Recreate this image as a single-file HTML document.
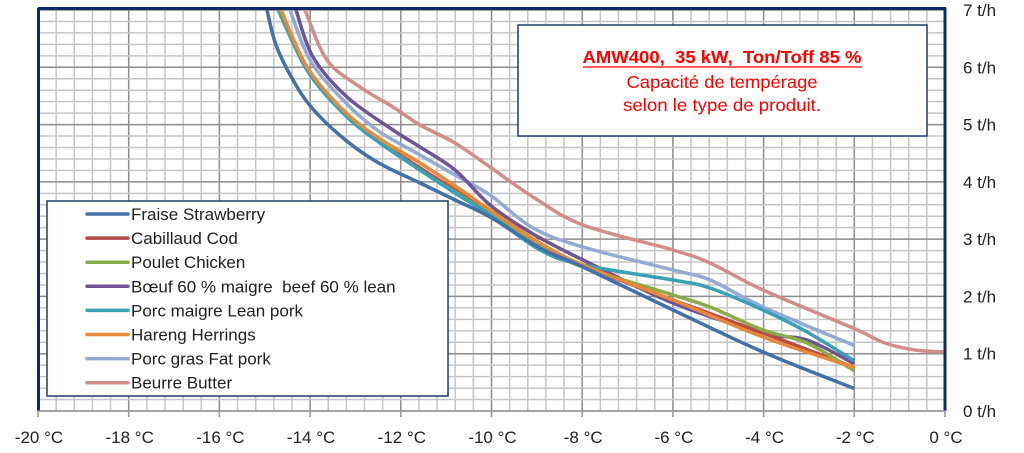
<!DOCTYPE html>
<html><head><meta charset="utf-8"><style>
html,body{margin:0;padding:0;background:#fff;}
svg{display:block;font-family:"Liberation Sans",sans-serif;}
text{white-space:pre;}
</style></head><body>
<svg id="s" width="1024" height="453" viewBox="0 0 1024 453">
<g id="grid"></g>
<g id="curves" fill="none" stroke-width="3.5" stroke-linecap="round" stroke-linejoin="round"></g>
<rect x="518" y="25" width="409" height="111" fill="#fff" stroke="#1f3a6e" stroke-width="1.5"/>
<text x="722" y="63" text-anchor="middle" fill="#ff0000" font-size="17.5" font-weight="bold" textLength="279" lengthAdjust="spacingAndGlyphs">AMW400,  35 kW,  Ton/Toff 85 %</text>
<line x1="583" y1="67" x2="862" y2="67" stroke="#ff0000" stroke-width="1.3"/>
<text x="722" y="88" text-anchor="middle" fill="#ff0000" font-size="17.5" textLength="191" lengthAdjust="spacingAndGlyphs">Capacité de tempérage</text>
<text x="722" y="111" text-anchor="middle" fill="#ff0000" font-size="17.5" textLength="198" lengthAdjust="spacingAndGlyphs">selon le type de produit.</text>
<rect x="47" y="201" width="401" height="195" fill="#fff" stroke="#1f3a6e" stroke-width="1.5"/>
<g font-size="17" fill="#222" id="leg"></g>
<g font-size="17" fill="#222" id="ax"></g>
<line x1="38" y1="8.5" x2="946" y2="8.5" stroke="#0c2a6b" stroke-width="3"/>
<line x1="38.5" y1="8" x2="38.5" y2="411" stroke="#0c2a6b" stroke-width="3"/>
<line x1="945" y1="8" x2="945" y2="411" stroke="#0c2a6b" stroke-width="3"/>
<line x1="37" y1="411" x2="946" y2="411" stroke="#999" stroke-width="1.5"/>
</svg>
<script>
var ns="http://www.w3.org/2000/svg";
function el(p,t,a,txt){var e=document.createElementNS(ns,t);for(var k in a)e.setAttribute(k,a[k]);if(txt!=null)e.textContent=txt;p.appendChild(e);return e;}
var g=document.getElementById('grid'),L=38,R=945,T=10,B=411;
for(var i=0;i<=50;i++){var x=L+(R-L)*i/50;var mj=i%5==0;el(g,'line',{x1:x,y1:T,x2:x,y2:B,stroke:mj?'#8c8c8c':'#c6c6c6','stroke-width':1.5});}
for(var j=0;j<=35;j++){var y=B-(B-T)*j/35;var mj=j%5==0;el(g,'line',{x1:L,y1:y,x2:R,y2:y,stroke:mj?'#8c8c8c':'#c6c6c6','stroke-width':1.5});}
function cr(p){var d='M'+p[0][0]+','+p[0][1];for(var i=0;i<p.length-1;i++){var p0=p[i-1]||p[i],p1=p[i],p2=p[i+1],p3=p[i+2]||p2;
d+=' C'+(p1[0]+(p2[0]-p0[0])/6)+','+(p1[1]+(p2[1]-p0[1])/6)+' '+(p2[0]-(p3[0]-p1[0])/6)+','+(p2[1]-(p3[1]-p1[1])/6)+' '+p2[0]+','+p2[1];}return d;}
var C=document.getElementById('curves');
var series=[
['#d38c8c',[[305,10],[327,60],[360,87],[393,107],[420,125],[455,143],[490,167],[533,197],[583,225],[673,250],[710,263],[763,290],[853,328],[885,343],[915,350],[945,352]]],
['#94aad2',[[290,10],[310,60],[343,100],[377,130],[420,155],[455,175],[490,195],[533,228],[583,247],[673,270],[710,280],[763,307],[853,345]]],
['#6e5395',[[296,10],[313,57],[347,97],[393,130],[420,147],[455,170],[490,205],[533,234],[583,260],[673,303],[763,333],[807,340],[853,363]]],
['#b84a48',[[279,10],[307,69],[343,112],[377,139],[420,168],[455,190],[490,213],[540,246],[583,266],[673,300],[763,333],[853,367]]],
['#8aab48',[[278,10],[307,70],[343,113],[377,140],[420,170],[455,192],[490,214],[540,247],[583,267],[673,295],[710,307],[763,330],[807,343],[853,370]]],
['#39a0b5',[[279,10],[307,70],[343,113],[377,141],[420,170],[455,193],[490,215],[540,250],[583,265],[673,280],[710,288],[763,310],[807,332],[853,360]]],
['#e8883a',[[281,10],[307,67],[343,110],[377,137],[420,163],[455,186],[490,210],[540,243],[583,265],[673,300],[763,337],[853,367]]],
['#4470a8',[[267,10],[276,45],[293,80],[312,108],[343,138],[377,162],[420,183],[455,200],[490,217],[540,248],[583,267],[673,310],[763,352],[853,388]]]
];
series.forEach(function(s){el(C,'path',{d:cr(s[1]),stroke:s[0]});});
var ax=document.getElementById('ax');
for(var i=0;i<=10;i++){var x=L+(R-L)*i/10;el(ax,'line',{x1:x,y1:411,x2:x,y2:417,stroke:'#999','stroke-width':1.5});el(ax,'text',{x:x+1,y:443,'text-anchor':'middle'},(i==10?'0':(-20+2*i))+' °C');}
for(var j=0;j<=7;j++){var y=B-(B-T)*j/7;el(ax,'text',{x:963,y:y+6},j+' t/h');}
var leg=document.getElementById('leg');
var items=[['#4470a8','Fraise Strawberry'],['#b84a48','Cabillaud Cod'],['#8aab48','Poulet Chicken'],['#6e5395','Bœuf 60 % maigre  beef 60 % lean'],['#39a0b5','Porc maigre Lean pork'],['#e8883a','Hareng Herrings'],['#94aad2','Porc gras Fat pork'],['#d38c8c','Beurre Butter']];
items.forEach(function(it,k){var y=214+k*24.1;el(leg,'line',{x1:87,y1:y,x2:128,y2:y,stroke:it[0],'stroke-width':3.5,'stroke-linecap':'round'});el(leg,'text',{x:131,y:y+6},it[1]);});
</script>
</body></html>
